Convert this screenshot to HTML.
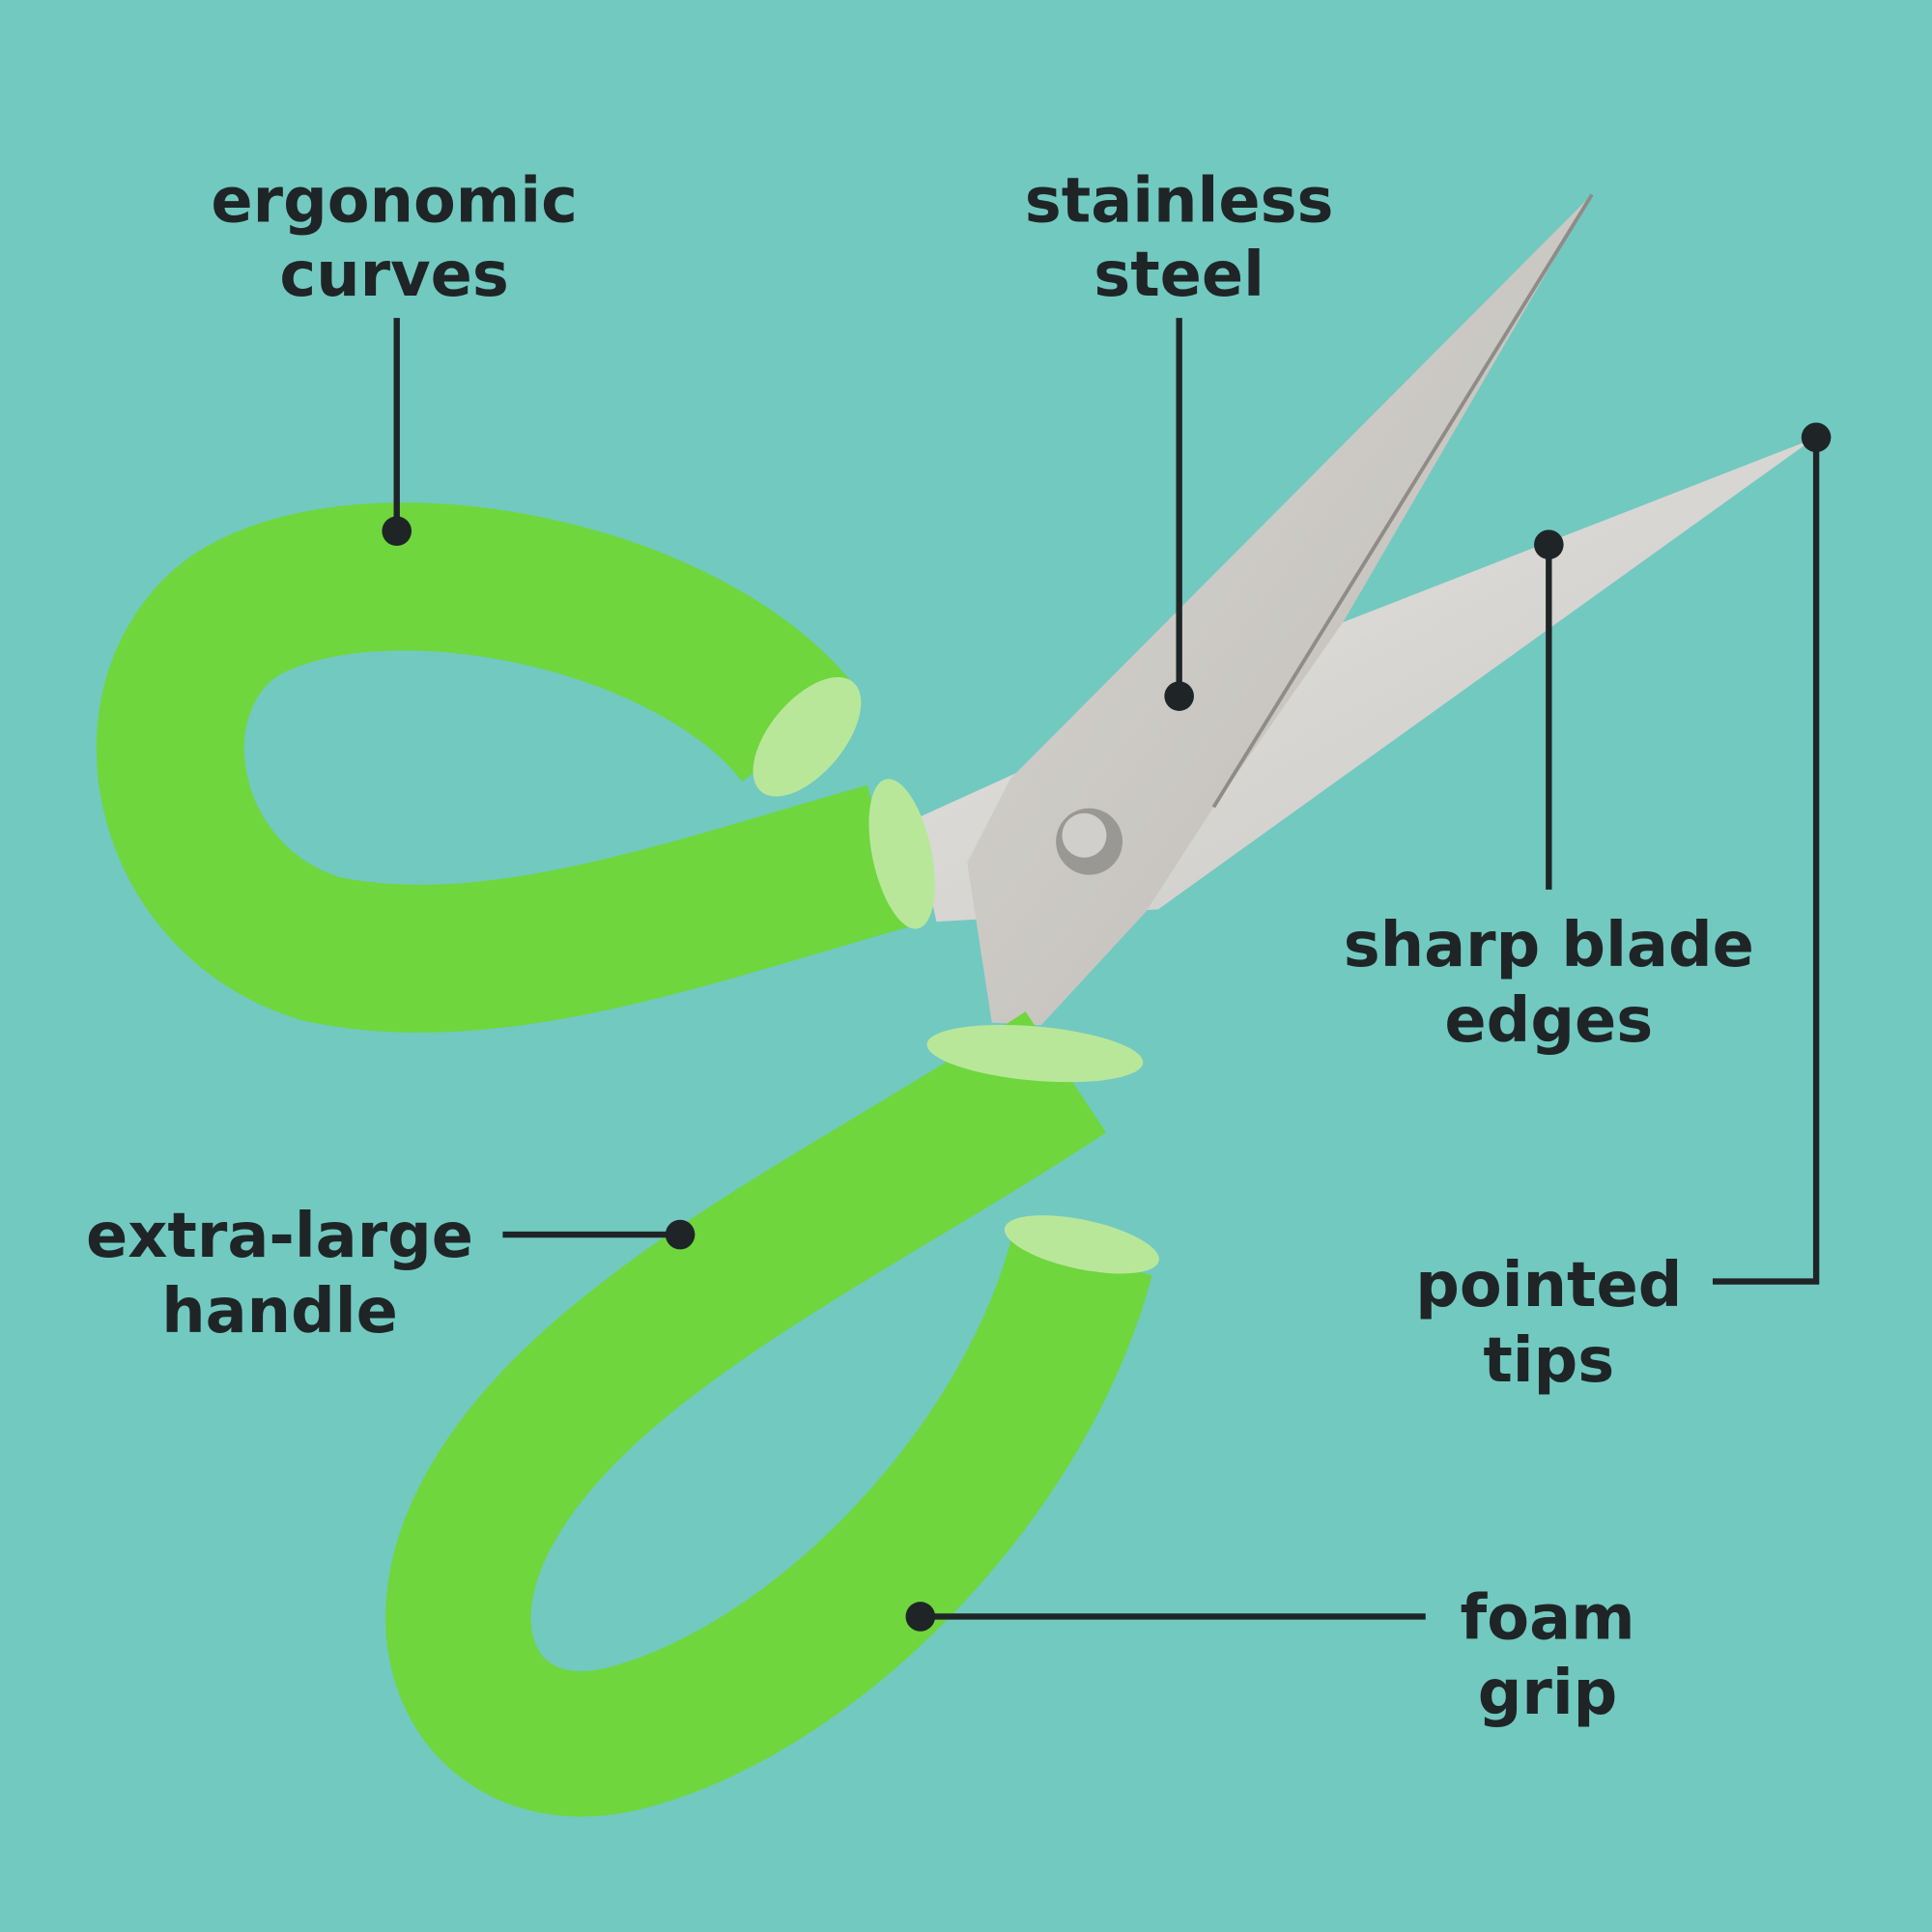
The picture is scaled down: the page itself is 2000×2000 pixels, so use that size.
<!DOCTYPE html>
<html><head><style>html,body{margin:0;padding:0;background:#72c9c0}svg{display:block}text{font-family:"DejaVu Sans","Liberation Sans",sans-serif;font-weight:bold;fill:#1f2526;font-size:50px;text-anchor:middle}</style></head>
<body>
<svg width="2000" height="2000" viewBox="0 0 1568 1568" xmlns="http://www.w3.org/2000/svg">
<rect width="1568" height="1568" fill="#72c9c0"/>
<defs>
<linearGradient id="st" x1="0" y1="0" x2="1" y2="1"><stop offset="0" stop-color="#d8d6d2"/><stop offset="1" stop-color="#bdbab5"/></linearGradient>
<linearGradient id="st2" x1="0" y1="0" x2="1" y2="1"><stop offset="0" stop-color="#e6e5e2"/><stop offset="1" stop-color="#c9c7c3"/></linearGradient>
</defs>
<!-- lower blade -->
<polygon points="1472,356 1090,505 985,560 830,625 742,665 760,748 940,738" fill="url(#st2)"/>
<!-- upper blade -->
<polygon points="1292,158 1090,505 985,655 930,740 845,832 805,830 785,700 820,632" fill="url(#st)"/>
<line x1="1292" y1="158" x2="985" y2="655" stroke="#8f8c88" stroke-width="3"/>
<circle cx="884" cy="683" r="27" fill="#9a9894"/><circle cx="880" cy="678" r="18" fill="#d0cfcc"/>
<!-- upper handle -->
<path d="M650 598 C560 480 300 430 190 500 C100 565 130 730 260 770 C400 800 560 740 720 695" fill="none" stroke="#6fd63e" stroke-width="120"/>
<ellipse cx="655" cy="598" rx="30" ry="58" transform="rotate(40 655 598)" fill="#b9e79a"/>
<ellipse cx="732" cy="693" rx="24" ry="62" transform="rotate(-12 732 693)" fill="#b9e79a"/>
<!-- lower handle -->
<path d="M865 870 C700 980 480 1080 400 1220 C330 1340 400 1440 510 1410 C660 1370 830 1200 878 1020" fill="none" stroke="#6fd63e" stroke-width="118"/>
<ellipse cx="840" cy="855" rx="88" ry="22" transform="rotate(5 840 855)" fill="#b9e79a"/>
<ellipse cx="878" cy="1010" rx="64" ry="20" transform="rotate(12 878 1010)" fill="#b9e79a"/>
<!-- labels -->
<g stroke="#1f2526" stroke-width="5" fill="none">
<line x1="322" y1="258" x2="322" y2="430"/>
<line x1="957" y1="258" x2="957" y2="565"/>
<line x1="1257" y1="442" x2="1257" y2="722"/>
<polyline points="1474,355 1474,1040 1390,1040"/>
<line x1="408" y1="1002" x2="552" y2="1002"/>
<line x1="747" y1="1312" x2="1157" y2="1312"/>
</g>
<g fill="#1f2526">
<circle cx="322" cy="431" r="12"/><circle cx="957" cy="565" r="12"/><circle cx="1257" cy="442" r="12"/><circle cx="1474" cy="355" r="12"/><circle cx="552" cy="1002" r="12"/><circle cx="747" cy="1312" r="12"/>
</g>
<text x="320" y="180">ergonomic</text><text x="320" y="240">curves</text>
<text x="957" y="180">stainless</text><text x="957" y="240">steel</text>
<text x="1257" y="784">sharp blade</text><text x="1257" y="845">edges</text>
<text x="1257" y="1060">pointed</text><text x="1257" y="1121">tips</text>
<text x="227" y="1020">extra-large</text><text x="227" y="1081">handle</text>
<text x="1256" y="1330">foam</text><text x="1256" y="1391">grip</text>
</svg>
</body></html>
